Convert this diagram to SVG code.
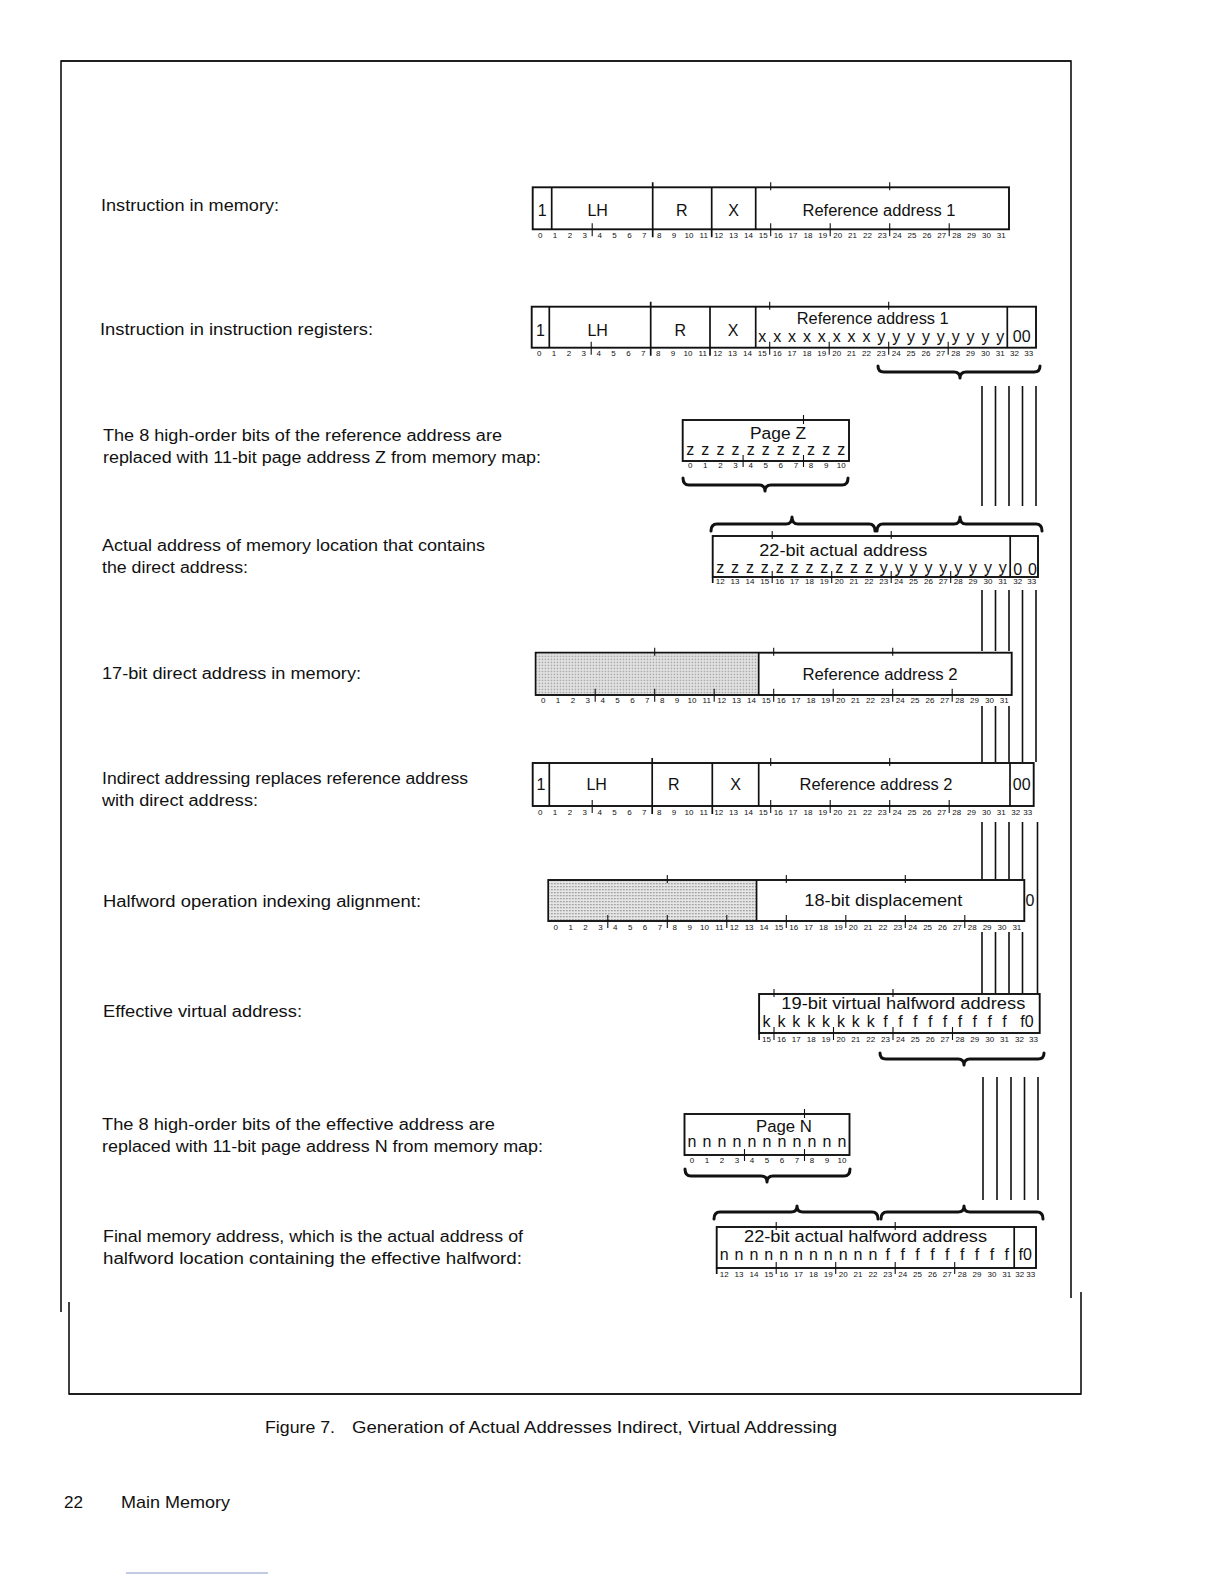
<svg xmlns="http://www.w3.org/2000/svg" width="1224" height="1584" viewBox="0 0 1224 1584">
<defs>
<style>
.frame{fill:none;stroke:#111;stroke-width:1.6}
.box{fill:#fff;stroke:#111;stroke-width:1.9}
.dv{fill:none;stroke:#111;stroke-width:1.7}
.tk{fill:none;stroke:#111;stroke-width:1.1}
.br{fill:none;stroke:#111;stroke-width:3;stroke-linecap:round;stroke-linejoin:round}
.vl{stroke:#111;stroke-width:1.6}
text{font-family:"Liberation Sans",Arial,sans-serif;fill:#111}
.lbl{font-size:16px}
.fld{font-size:16px;text-anchor:middle}
.fl{font-size:16px}
.let{font-size:16px;text-anchor:middle}
.num{font-size:8px;text-anchor:middle}
.cap{font-size:17px}
</style>
<pattern id="dots" width="3" height="3" patternUnits="userSpaceOnUse"><rect width="3" height="3" fill="#e6e6e6"/><rect width="1.3" height="1.3" fill="#888"/></pattern>
</defs>
<rect width="1224" height="1584" fill="#fff"/>

<g id="frame">
<path class="frame" d="M61,1312 V61 H1071 V1298"/>
<path class="frame" d="M61,61 H1071" stroke-width="3"/>
<path class="frame" d="M69,1302 V1394 H1081 V1292"/>
<path class="frame" d="M69,1394 H1081" stroke-width="2.6"/>
</g>

<g id="labels">
<text class="lbl" x="101" y="211" textLength="178" lengthAdjust="spacingAndGlyphs">Instruction in memory:</text>
<text class="lbl" x="100" y="335" textLength="273" lengthAdjust="spacingAndGlyphs">Instruction in instruction registers:</text>
<text class="lbl" x="103" y="441" textLength="399" lengthAdjust="spacingAndGlyphs">The 8 high-order bits of the reference address are</text>
<text class="lbl" x="103" y="463" textLength="438" lengthAdjust="spacingAndGlyphs">replaced with 11-bit page address Z from memory map:</text>
<text class="lbl" x="102" y="551" textLength="383" lengthAdjust="spacingAndGlyphs">Actual address of memory location that contains</text>
<text class="lbl" x="102" y="573" textLength="146" lengthAdjust="spacingAndGlyphs">the direct address:</text>
<text class="lbl" x="102" y="679" textLength="259" lengthAdjust="spacingAndGlyphs">17-bit direct address in memory:</text>
<text class="lbl" x="102" y="784" textLength="366" lengthAdjust="spacingAndGlyphs">Indirect addressing replaces reference address</text>
<text class="lbl" x="102" y="806" textLength="156" lengthAdjust="spacingAndGlyphs">with direct address:</text>
<text class="lbl" x="103" y="907" textLength="318" lengthAdjust="spacingAndGlyphs">Halfword operation indexing alignment:</text>
<text class="lbl" x="103" y="1017" textLength="199" lengthAdjust="spacingAndGlyphs">Effective virtual address:</text>
<text class="lbl" x="102" y="1130" textLength="393" lengthAdjust="spacingAndGlyphs">The 8 high-order bits of the effective address are</text>
<text class="lbl" x="102" y="1152" textLength="441" lengthAdjust="spacingAndGlyphs">replaced with 11-bit page address N from memory map:</text>
<text class="lbl" x="103" y="1242" textLength="420" lengthAdjust="spacingAndGlyphs">Final memory address, which is the actual address of</text>
<text class="lbl" x="103" y="1264" textLength="419" lengthAdjust="spacingAndGlyphs">halfword location containing the effective halfword:</text>
<text class="cap" x="265" y="1433" textLength="70" lengthAdjust="spacingAndGlyphs">Figure 7.</text>
<text class="cap" x="352" y="1433" textLength="485" lengthAdjust="spacingAndGlyphs">Generation of Actual Addresses Indirect, Virtual Addressing</text>
<text class="cap" x="64" y="1508" textLength="19" lengthAdjust="spacingAndGlyphs">22</text>
<text class="cap" x="121" y="1508" textLength="109" lengthAdjust="spacingAndGlyphs">Main Memory</text>
</g>
<line x1="126" y1="1573" x2="268" y2="1573" stroke="#8595c8" stroke-width="1"/>

<g id="instr-mem" transform="translate(532.7,187.3)">
<rect class="box" x="0" y="0" width="476.3" height="42"/>
<path class="dv" d="M19,0V42M120,-5V50M179,0V50M223,0V42"/>
<path class="tk" d="M238,-5v8M357,-5v8M59.5,36v13M238,36v13M297.5,36v13M357,36v13M416.5,36v13"/>
<text class="fld" x="9.5" y="28.5">1</text>
<text class="fld" x="65" y="28.5">LH</text>
<text class="fld" x="149" y="28.5">R</text>
<text class="fld" x="201" y="28.5">X</text>
<text class="fl" x="269.8" y="28.5" textLength="153" lengthAdjust="spacingAndGlyphs">Reference address 1</text>
<text class="num" y="51"><tspan x="7.44">0</tspan><tspan x="22.31">1</tspan><tspan x="37.19">2</tspan><tspan x="52.06">3</tspan><tspan x="66.94">4</tspan><tspan x="81.81">5</tspan><tspan x="96.69">6</tspan><tspan x="111.56">7</tspan><tspan x="126.44">8</tspan><tspan x="141.31">9</tspan><tspan x="156.19">10</tspan><tspan x="171.06">11</tspan><tspan x="185.94">12</tspan><tspan x="200.81">13</tspan><tspan x="215.69">14</tspan><tspan x="230.56">15</tspan><tspan x="245.44">16</tspan><tspan x="260.31">17</tspan><tspan x="275.19">18</tspan><tspan x="290.06">19</tspan><tspan x="304.94">20</tspan><tspan x="319.81">21</tspan><tspan x="334.69">22</tspan><tspan x="349.56">23</tspan><tspan x="364.44">24</tspan><tspan x="379.31">25</tspan><tspan x="394.19">26</tspan><tspan x="409.06">27</tspan><tspan x="423.94">28</tspan><tspan x="438.81">29</tspan><tspan x="453.69">30</tspan><tspan x="468.56">31</tspan></text>
</g>

<g id="instr-reg" transform="translate(531.7,306.7)">
<rect class="box" x="0" y="0" width="504.3" height="41"/>
<path class="dv" d="M17.6,0V41M119,-5V49M178.3,0V49M224,0V41M475.6,0V41"/>
<path class="tk" d="M238,-5v8M357,-5v8M59.5,35v13M238,35v13M297.5,35v13M357,35v13M416.5,35v13"/>
<text class="fld" x="8.8" y="29">1</text>
<text class="fld" x="66" y="29">LH</text>
<text class="fld" x="148.5" y="29">R</text>
<text class="fld" x="201.5" y="29">X</text>
<text class="fl" x="265" y="17" textLength="152" lengthAdjust="spacingAndGlyphs">Reference address 1</text>
<text class="let" y="35" x="230.56 238 245.44 252.88 260.31 267.75 275.19 282.63 290.06 297.5 304.94 312.38 319.81 327.25 334.69 342.13 349.56 357 364.44 371.88 379.31 386.75 394.19 401.63 409.06 416.5 423.94 431.38 438.81 446.25 453.69 461.13 468.56">x x x x x x x x y y y y y y y y y</text>
<text class="fld" x="490" y="35">00</text>
<text class="num" y="49"><tspan x="7.44">0</tspan><tspan x="22.31">1</tspan><tspan x="37.19">2</tspan><tspan x="52.06">3</tspan><tspan x="66.94">4</tspan><tspan x="81.81">5</tspan><tspan x="96.69">6</tspan><tspan x="111.56">7</tspan><tspan x="126.44">8</tspan><tspan x="141.31">9</tspan><tspan x="156.19">10</tspan><tspan x="171.06">11</tspan><tspan x="185.94">12</tspan><tspan x="200.81">13</tspan><tspan x="215.69">14</tspan><tspan x="230.56">15</tspan><tspan x="245.44">16</tspan><tspan x="260.31">17</tspan><tspan x="275.19">18</tspan><tspan x="290.06">19</tspan><tspan x="304.94">20</tspan><tspan x="319.81">21</tspan><tspan x="334.69">22</tspan><tspan x="349.56">23</tspan><tspan x="364.44">24</tspan><tspan x="379.31">25</tspan><tspan x="394.19">26</tspan><tspan x="409.06">27</tspan><tspan x="423.94">28</tspan><tspan x="438.81">29</tspan><tspan x="453.69">30</tspan><tspan x="468.56">31</tspan><tspan x="482.8">32</tspan><tspan x="497">33</tspan></text>
</g>

<g id="page-z" transform="translate(682.7,420)">
<rect class="box" x="0" y="0" width="166.3" height="41"/>
<path class="tk" d="M120.8,-5v9M60.4,35v12M120.8,35v12"/>
<text class="fl" x="67.3" y="19" textLength="56" lengthAdjust="spacingAndGlyphs">Page Z</text>
<text class="let" y="34.7" x="7.55 15.1 22.65 30.2 37.75 45.3 52.85 60.4 67.95 75.5 83.05 90.6 98.15 105.7 113.25 120.8 128.35 135.9 143.45 151 158.55">z z z z z z z z z z z</text>
<text class="num" y="47.5"><tspan x="7.55">0</tspan><tspan x="22.65">1</tspan><tspan x="37.75">2</tspan><tspan x="52.85">3</tspan><tspan x="67.95">4</tspan><tspan x="83.05">5</tspan><tspan x="98.15">6</tspan><tspan x="113.25">7</tspan><tspan x="128.35">8</tspan><tspan x="143.45">9</tspan><tspan x="158.55">10</tspan></text>
</g>

<g id="actual-addr" transform="translate(534.2,536)">
<rect class="box" x="178.5" y="0" width="325.3" height="41"/>
<path class="dv" d="M476,0V41M178.5,41V47"/>
<path class="tk" d="M238,-5v8M357,-5v8M238,35v12M297.5,35v12M357,35v12M416.5,35v12"/>
<text class="fl" x="225.1" y="20" textLength="168" lengthAdjust="spacingAndGlyphs">22-bit actual address</text>
<text class="let" y="37.3" x="185.94 193.38 200.81 208.25 215.69 223.13 230.56 238 245.44 252.88 260.31 267.75 275.19 282.63 290.06 297.5 304.94 312.38 319.81 327.25 334.69 342.13 349.56 357 364.44 371.88 379.31 386.75 394.19 401.63 409.06 416.5 423.94 431.38 438.81 446.25 453.69 461.13 468.56">z z z z z z z z z z z y y y y y y y y y</text>
<text class="fld" y="38.5" x="483.44 490.88 498.31">0 0</text>
<text class="num" y="47.5"><tspan x="185.94">12</tspan><tspan x="200.81">13</tspan><tspan x="215.69">14</tspan><tspan x="230.56">15</tspan><tspan x="245.44">16</tspan><tspan x="260.31">17</tspan><tspan x="275.19">18</tspan><tspan x="290.06">19</tspan><tspan x="304.94">20</tspan><tspan x="319.81">21</tspan><tspan x="334.69">22</tspan><tspan x="349.56">23</tspan><tspan x="364.44">24</tspan><tspan x="379.31">25</tspan><tspan x="394.19">26</tspan><tspan x="409.06">27</tspan><tspan x="423.94">28</tspan><tspan x="438.81">29</tspan><tspan x="453.69">30</tspan><tspan x="468.56">31</tspan><tspan x="483.44">32</tspan><tspan x="497.5">33</tspan></text>
</g>

<g id="direct-addr" transform="translate(535.7,652.7)">
<rect class="box" x="0" y="0" width="476" height="42.3"/>
<rect x="1" y="1" width="222" height="40.3" fill="url(#dots)"/>
<path class="dv" d="M223,0V42.3"/>
<path class="tk" d="M119,-5v8M238,-5v8M357,-5v8M59.5,36v13M119,36v13M178.5,36v13M238,36v13M297.5,36v13M357,36v13M416.5,36v13"/>
<text class="fl" x="266.8" y="27.3" textLength="155" lengthAdjust="spacingAndGlyphs">Reference address 2</text>
<text class="num" y="50.8"><tspan x="7.44">0</tspan><tspan x="22.31">1</tspan><tspan x="37.19">2</tspan><tspan x="52.06">3</tspan><tspan x="66.94">4</tspan><tspan x="81.81">5</tspan><tspan x="96.69">6</tspan><tspan x="111.56">7</tspan><tspan x="126.44">8</tspan><tspan x="141.31">9</tspan><tspan x="156.19">10</tspan><tspan x="171.06">11</tspan><tspan x="185.94">12</tspan><tspan x="200.81">13</tspan><tspan x="215.69">14</tspan><tspan x="230.56">15</tspan><tspan x="245.44">16</tspan><tspan x="260.31">17</tspan><tspan x="275.19">18</tspan><tspan x="290.06">19</tspan><tspan x="304.94">20</tspan><tspan x="319.81">21</tspan><tspan x="334.69">22</tspan><tspan x="349.56">23</tspan><tspan x="364.44">24</tspan><tspan x="379.31">25</tspan><tspan x="394.19">26</tspan><tspan x="409.06">27</tspan><tspan x="423.94">28</tspan><tspan x="438.81">29</tspan><tspan x="453.69">30</tspan><tspan x="468.56">31</tspan></text>
</g>

<g id="indirect" transform="translate(532.7,763)">
<rect class="box" x="0" y="0" width="501" height="43"/>
<path class="dv" d="M16.6,0V43M119.5,-5V51M179.6,0V51M226,0V43M477.3,0V43"/>
<path class="tk" d="M238,-5v8M357,-5v8M59.5,37v13M238,37v13M297.5,37v13M357,37v13M416.5,37v13"/>
<text class="fld" x="8.3" y="26.5">1</text>
<text class="fld" x="64" y="26.5">LH</text>
<text class="fld" x="141" y="26.5">R</text>
<text class="fld" x="203" y="26.5">X</text>
<text class="fl" x="266.8" y="26.5" textLength="153" lengthAdjust="spacingAndGlyphs">Reference address 2</text>
<text class="fld" x="489" y="26.5">00</text>
<text class="num" y="51.5"><tspan x="7.44">0</tspan><tspan x="22.31">1</tspan><tspan x="37.19">2</tspan><tspan x="52.06">3</tspan><tspan x="66.94">4</tspan><tspan x="81.81">5</tspan><tspan x="96.69">6</tspan><tspan x="111.56">7</tspan><tspan x="126.44">8</tspan><tspan x="141.31">9</tspan><tspan x="156.19">10</tspan><tspan x="171.06">11</tspan><tspan x="185.94">12</tspan><tspan x="200.81">13</tspan><tspan x="215.69">14</tspan><tspan x="230.56">15</tspan><tspan x="245.44">16</tspan><tspan x="260.31">17</tspan><tspan x="275.19">18</tspan><tspan x="290.06">19</tspan><tspan x="304.94">20</tspan><tspan x="319.81">21</tspan><tspan x="334.69">22</tspan><tspan x="349.56">23</tspan><tspan x="364.44">24</tspan><tspan x="379.31">25</tspan><tspan x="394.19">26</tspan><tspan x="409.06">27</tspan><tspan x="423.94">28</tspan><tspan x="438.81">29</tspan><tspan x="453.69">30</tspan><tspan x="468.56">31</tspan><tspan x="483">32</tspan><tspan x="495">33</tspan></text>
</g>

<g id="halfword" transform="translate(548.3,880)">
<rect class="box" x="0" y="0" width="476" height="41"/>
<rect x="1" y="1" width="207.25" height="39" fill="url(#dots)"/>
<path class="dv" d="M208.25,0V41"/>
<path class="tk" d="M119,-5v8M238,-5v8M357,-5v8M59.5,35v13M119,35v13M178.5,35v13M238,35v13M297.5,35v13M357,35v13M416.5,35v13"/>
<text class="fl" x="256" y="25.7" textLength="158" lengthAdjust="spacingAndGlyphs">18-bit displacement</text>
<text class="fld" x="481.7" y="25.7">0</text>
<text class="num" y="49.5"><tspan x="7.44">0</tspan><tspan x="22.31">1</tspan><tspan x="37.19">2</tspan><tspan x="52.06">3</tspan><tspan x="66.94">4</tspan><tspan x="81.81">5</tspan><tspan x="96.69">6</tspan><tspan x="111.56">7</tspan><tspan x="126.44">8</tspan><tspan x="141.31">9</tspan><tspan x="156.19">10</tspan><tspan x="171.06">11</tspan><tspan x="185.94">12</tspan><tspan x="200.81">13</tspan><tspan x="215.69">14</tspan><tspan x="230.56">15</tspan><tspan x="245.44">16</tspan><tspan x="260.31">17</tspan><tspan x="275.19">18</tspan><tspan x="290.06">19</tspan><tspan x="304.94">20</tspan><tspan x="319.81">21</tspan><tspan x="334.69">22</tspan><tspan x="349.56">23</tspan><tspan x="364.44">24</tspan><tspan x="379.31">25</tspan><tspan x="394.19">26</tspan><tspan x="409.06">27</tspan><tspan x="423.94">28</tspan><tspan x="438.81">29</tspan><tspan x="453.69">30</tspan><tspan x="468.56">31</tspan></text>
</g>

<g id="effective" transform="translate(536,994)">
<rect class="box" x="223.1" y="0" width="280.6" height="39"/>
<path class="dv" d="M223.1,39V46"/>
<path class="tk" d="M238,-5v8M357,-5v8M238,33v13M297.5,33v13M357,33v13M416.5,33v13"/>
<text class="fl" x="245.3" y="15" textLength="244" lengthAdjust="spacingAndGlyphs">19-bit virtual halfword address</text>
<text class="let" y="33" x="230.56 238 245.44 252.88 260.31 267.75 275.19 282.63 290.06 297.5 304.94 312.38 319.81 327.25 334.69 342.13 349.56 357 364.44 371.88 379.31 386.75 394.19 401.63 409.06 416.5 423.94 431.38 438.81 446.25 453.69 461.13 468.56">k k k k k k k k f f f f f f f f f</text>
<text class="let" x="490.9" y="33">f0</text>
<text class="num" y="48"><tspan x="230.56">15</tspan><tspan x="245.44">16</tspan><tspan x="260.31">17</tspan><tspan x="275.19">18</tspan><tspan x="290.06">19</tspan><tspan x="304.94">20</tspan><tspan x="319.81">21</tspan><tspan x="334.69">22</tspan><tspan x="349.56">23</tspan><tspan x="364.44">24</tspan><tspan x="379.31">25</tspan><tspan x="394.19">26</tspan><tspan x="409.06">27</tspan><tspan x="423.94">28</tspan><tspan x="438.81">29</tspan><tspan x="453.69">30</tspan><tspan x="468.56">31</tspan><tspan x="483.44">32</tspan><tspan x="497.5">33</tspan></text>
</g>

<g id="page-n" transform="translate(684.5,1114)">
<rect class="box" x="0" y="0" width="165" height="41"/>
<path class="tk" d="M120,-5v9M60,35v12M120,35v12"/>
<text class="fl" x="71.5" y="18.4" textLength="56" lengthAdjust="spacingAndGlyphs">Page N</text>
<text class="let" y="33.3" x="7.5 15 22.5 30 37.5 45 52.5 60 67.5 75 82.5 90 97.5 105 112.5 120 127.5 135 142.5 150 157.5">n n n n n n n n n n n</text>
<text class="num" y="48.5"><tspan x="7.5">0</tspan><tspan x="22.5">1</tspan><tspan x="37.5">2</tspan><tspan x="52.5">3</tspan><tspan x="67.5">4</tspan><tspan x="82.5">5</tspan><tspan x="97.5">6</tspan><tspan x="112.5">7</tspan><tspan x="127.5">8</tspan><tspan x="142.5">9</tspan><tspan x="157.5">10</tspan></text>
</g>

<g id="final" transform="translate(538.2,1227)">
<rect class="box" x="178.5" y="0" width="319.3" height="41"/>
<path class="dv" d="M476,0V41M178.5,41V47"/>
<path class="tk" d="M238,-5v8M357,-5v8M238,35v12M297.5,35v12M357,35v12M416.5,35v12"/>
<text class="fl" x="205.8" y="15.4" textLength="243" lengthAdjust="spacingAndGlyphs">22-bit actual halfword address</text>
<text class="let" y="33" x="185.94 193.38 200.81 208.25 215.69 223.13 230.56 238 245.44 252.88 260.31 267.75 275.19 282.63 290.06 297.5 304.94 312.38 319.81 327.25 334.69 342.13 349.56 357 364.44 371.88 379.31 386.75 394.19 401.63 409.06 416.5 423.94 431.38 438.81 446.25 453.69 461.13 468.56">n n n n n n n n n n n f f f f f f f f f</text>
<text class="let" x="487" y="33">f0</text>
<text class="num" y="49.5"><tspan x="185.94">12</tspan><tspan x="200.81">13</tspan><tspan x="215.69">14</tspan><tspan x="230.56">15</tspan><tspan x="245.44">16</tspan><tspan x="260.31">17</tspan><tspan x="275.19">18</tspan><tspan x="290.06">19</tspan><tspan x="304.94">20</tspan><tspan x="319.81">21</tspan><tspan x="334.69">22</tspan><tspan x="349.56">23</tspan><tspan x="364.44">24</tspan><tspan x="379.31">25</tspan><tspan x="394.19">26</tspan><tspan x="409.06">27</tspan><tspan x="423.94">28</tspan><tspan x="438.81">29</tspan><tspan x="453.69">30</tspan><tspan x="468.56">31</tspan><tspan x="481.5">32</tspan><tspan x="492.5">33</tspan></text>
</g>

<g id="connectors">
<path class="br" d="M878,366 Q878,372 884,372 H954 Q960,372 960,378 Q960,372 966,372 H1034 Q1040,372 1040,366"/>
<path class="br" d="M683,478 Q683,485 689,485 H759 Q765,485 765,491 Q765,485 771,485 H842 Q848,485 848,478"/>
<path class="br" d="M711,531 Q711,524 717,524 H786 Q792,524 792,517 Q792,524 798,524 H869 Q875,524 875,531"/>
<path class="br" d="M877,531 Q877,524 883,524 H954 Q960,524 960,517 Q960,524 966,524 H1036 Q1042,524 1042,531"/>
<path class="br" d="M880,1053 Q880,1059 886,1059 H958 Q964,1059 964,1065 Q964,1059 970,1059 H1038 Q1044,1059 1044,1053"/>
<path class="br" d="M685,1169 Q685,1176 691,1176 H761 Q767,1176 767,1182 Q767,1176 773,1176 H844 Q850,1176 850,1169"/>
<path class="br" d="M714,1219 Q714,1212 720,1212 H791 Q797,1212 797,1206 Q797,1212 803,1212 H872 Q878,1212 878,1219"/>
<path class="br" d="M881,1219 Q881,1212 887,1212 H958 Q964,1212 964,1206 Q964,1212 970,1212 H1037 Q1043,1212 1043,1219"/>
<path class="vl" d="M982,386V506M995.5,386V506M1009,386V506M1022.5,386V506M1036,386V506"/>
<path class="vl" d="M982,590V651M995.5,590V651M1009,590V651M1022.5,590V762M1036,590V762"/>
<path class="vl" d="M982,706V762M995.5,706V762M1009,706V762"/>
<path class="vl" d="M982,822V879M995.5,822V879M1009,822V879M1022.5,822V879M1037.5,822V994"/>
<path class="vl" d="M982,932V993M995.5,932V993M1009,932V993M1022.5,932V993"/>
<path class="vl" d="M983,1077V1200M997,1077V1200M1011,1077V1200M1024.5,1077V1200M1038,1077V1200"/>
</g>
</svg>
